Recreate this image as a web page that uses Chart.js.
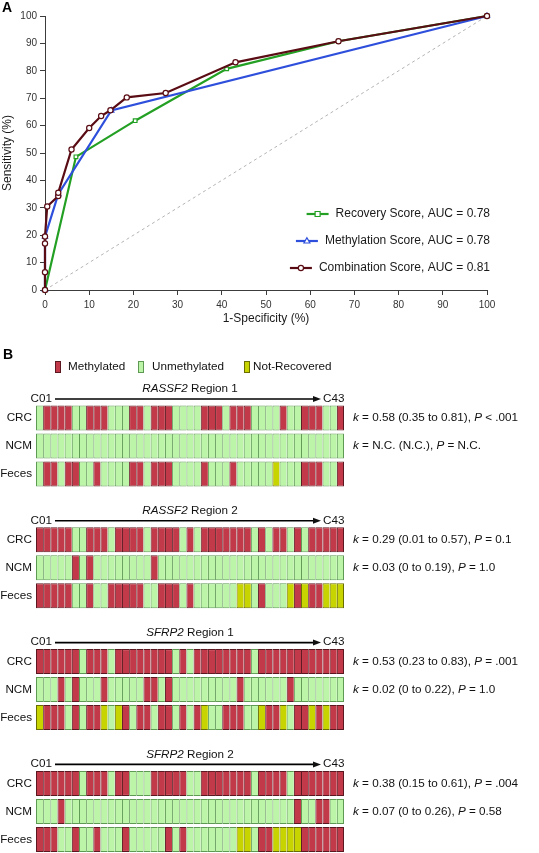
<!DOCTYPE html>
<html><head><meta charset="utf-8">
<script src="https://cdn.jsdelivr.net/npm/chart.js@4.4.1/dist/chart.umd.min.js"></script>
<style>
html,body{margin:0;padding:0;background:#fff;width:539px;height:853px;overflow:hidden;}
#wa{position:absolute;left:0;top:0;width:539px;height:330px;}
#wb{position:absolute;left:0;top:330px;width:539px;height:523px;}
canvas{display:block;}
</style></head><body>
<div id="wa"><canvas id="ca" width="539" height="330"></canvas></div>
<div id="wb"><canvas id="cb" width="539" height="523"></canvas></div>
<script>
const FF = '"Liberation Sans", Arial, Helvetica, sans-serif';

// ---------- Panel A data (ROC curves) ----------
const combFPR  = [0, 0, 0, 0, 0.5, 3, 3, 6, 10, 12.7, 14.8, 18.5, 27.3, 43.1, 66.4, 100];
const combSens = [0, 6.5, 17, 19.5, 30.5, 34.3, 35.5, 51.3, 59.1, 63.5, 65.6, 70.3, 71.9, 83.1, 90.8, 100];
const methFPR  = [0, 0, 3, 15, 100];
const methSens = [0, 19.5, 35, 65.5, 100];
const recFPR   = [0, 7, 20.4, 41.1, 66.4, 100];
const recSens  = [0, 48.6, 61.8, 80.7, 90.8, 100];
const chanceFPR  = [0, 100];
const chanceSens = [0, 100];
const axisTicks = [0, 10, 20, 30, 40, 50, 60, 70, 80, 90, 100];
const seriesNames = ['Recovery Score', 'Methylation Score', 'Combination Score'];
const seriesAUC = ['0.78', '0.78', '0.81'];

// ---------- Panel B data (methylation status per case C01..C43) ----------
// M = Methylated, U = Unmethylated, N = Not-Recovered
const genes = ['RASSF2', 'RASSF2', 'SFRP2', 'SFRP2'];
const regionNo = ['1', '2', '1', '2'];
const rowLabels = ['CRC', 'NCM', 'Feces'];
const firstCase = 'C01', lastCase = 'C43';
const rassf2R1_CRC   = 'U MMMM UU MMM UUU MM U MMM UUUU MMM U MMM UUUU M UU MMM UU M';
const rassf2R1_NCM   = 'UUUUUUUUUU UUUUUUUUUU UUUUUUUUUU UUUUUUUUUU UUU';
const rassf2R1_Feces = 'U MM U MM UU M UUUU MM U MMM UUUU M UUU M UUUUU N UUU MMM UU M';
const rassf2R2_CRC   = 'MMMMM UU MMM U MMMM U MMMM U M U MMMMMMM U M U MM U M U MMMMM';
const rassf2R2_NCM   = 'UUUUU M U M UUUUUUUU M UUUUUUUUUU UUUUUUUUUU UUUUUU';
const rassf2R2_Feces = 'MMMMM UU M UU MMMMM UU MMM U M UUUUUU NN U M UUU N M N MM NNN';
const sfrp2R1_CRC    = 'MMMMMM U MMM U MMMMMMMM U M U MMMMMMMM U MMMMMMMMMMMM';
const sfrp2R1_NCM    = 'UUU M U M UUU M UUUUU MM U M UUUUUUUUU M UUUUUU M UUUUUUU';
const sfrp2R1_Feces  = 'N MMM U M U MM N U N M U MM U MM U M U M N UU MMM UU N MM N U MM N M N MM';
const sfrp2R2_CRC    = 'MMMMMM U MMM U MM UUU MMMMM UU MMMMMMM U MMMM U MMMMMMM';
const sfrp2R2_NCM    = 'UUU M UUUUUUUUUU UUUUUUUUUU UUUUUUUUUU UU M UU MM UU';
const sfrp2R2_Feces  = 'MMM UU M UU M UUU M UUUUU M U M UUUUUUU NN U MM NNNN MMMMMM';
const kappaCRC = ['0.58 (0.35 to 0.81)', '0.29 (0.01 to 0.57)', '0.53 (0.23 to 0.83)', '0.38 (0.15 to 0.61)'];
const pCRC     = ['< .001', '= 0.1', '= .001', '= .004'];
const kappaNCM = ['N.C. (N.C.)', '0.03 (0 to 0.19)', '0.02 (0 to 0.22)', '0.07 (0 to 0.26)'];
const pNCM     = ['= N.C.', '= 1.0', '= 1.0', '= 0.58'];
const statusNames = {M: 'Methylated', U: 'Unmethylated', N: 'Not-Recovered'};

const regionRows = [
  [rassf2R1_CRC, rassf2R1_NCM, rassf2R1_Feces],
  [rassf2R2_CRC, rassf2R2_NCM, rassf2R2_Feces],
  [sfrp2R1_CRC, sfrp2R1_NCM, sfrp2R1_Feces],
  [sfrp2R2_CRC, sfrp2R2_NCM, sfrp2R2_Feces]
];

// ---------- styles ----------
const COMB = '#5a0c14', METH = '#2e4fdc', REC = '#23a023', AXIS = '#3c3c3c';
const FILL = {M: '#c23a49', U: '#bdf5a8', N: '#c8d400'};
const EDGE = {M: '#5c1820', U: '#5f9a55', N: '#6a6e00'};

Chart.defaults.font.family = FF;
Chart.defaults.color = '#222';

const xy = (xs, ys) => xs.map((v, i) => ({x: v, y: ys[i]}));

function drawMarker(ctx, style, x, y, color) {
  ctx.save();
  ctx.fillStyle = '#fff'; ctx.strokeStyle = color; ctx.lineWidth = 1.2;
  ctx.beginPath();
  if (style === 'circle') ctx.arc(x, y, 2.6, 0, Math.PI * 2);
  else if (style === 'rect') ctx.rect(x - 2.5, y - 2.5, 5, 5);
  else { ctx.moveTo(x, y - 3.2); ctx.lineTo(x + 3, y + 2); ctx.lineTo(x - 3, y + 2); ctx.closePath(); }
  ctx.fill(); ctx.stroke();
  ctx.restore();
}

const panelA = {
  id: 'panelA',
  afterDraw(chart) {
    const ctx = chart.ctx;
    ctx.save();
    ctx.fillStyle = '#000';
    ctx.font = `bold 14px ${FF}`;
    ctx.textBaseline = 'middle'; ctx.textAlign = 'left';
    ctx.fillText('A', 2, 8);
    const items = [
      {c: REC, s: 'rect', y: 214},
      {c: METH, s: 'triangle', y: 241},
      {c: COMB, s: 'circle', y: 268}
    ];
    ctx.font = `12px ${FF}`;
    items.forEach((it, i) => {
      const label = `${seriesNames[i]}, AUC = ${seriesAUC[i]}`;
      const w = ctx.measureText(label).width;
      const tl = 490 - w;
      ctx.fillStyle = '#1a1a1a';
      ctx.textAlign = 'left';
      ctx.fillText(label, tl, it.y);
      ctx.strokeStyle = it.c; ctx.lineWidth = 2.2;
      ctx.beginPath(); ctx.moveTo(tl - 29, it.y); ctx.lineTo(tl - 7, it.y); ctx.stroke();
      drawMarker(ctx, it.s, tl - 18, it.y, it.c);
    });
    ctx.restore();
  }
};

const tickBuild = s => { s.ticks = axisTicks.map(v => ({value: v})); };

new Chart(document.getElementById('ca'), {
  type: 'scatter',
  data: {
    datasets: [
      {label: seriesNames[2], data: xy(combFPR, combSens), showLine: true, borderColor: COMB, borderWidth: 2.2,
       pointStyle: 'circle', pointRadius: 2.6, pointBackgroundColor: '#fff', pointBorderColor: COMB, pointBorderWidth: 1.2, order: 0, clip: false},
      {label: seriesNames[1], data: xy(methFPR, methSens), showLine: true, borderColor: METH, borderWidth: 2.2,
       pointStyle: 'triangle', pointRadius: 3, pointBackgroundColor: '#fff', pointBorderColor: METH, pointBorderWidth: 1.2, order: 1, clip: false},
      {label: seriesNames[0], data: xy(recFPR, recSens), showLine: true, borderColor: REC, borderWidth: 2.2,
       pointStyle: 'rect', pointRadius: 2.6, pointBackgroundColor: '#fff', pointBorderColor: REC, pointBorderWidth: 1.2, order: 2, clip: false},
      {label: 'Reference', data: xy(chanceFPR, chanceSens), showLine: true, borderColor: '#b4b4b4', borderWidth: 1,
       borderDash: [3, 3], pointRadius: 0, order: 3}
    ]
  },
  options: {
    responsive: false, animation: false, events: [],
    layout: {padding: {top: 16, right: 52, left: 0, bottom: 0}},
    plugins: {legend: {display: false}, tooltip: {enabled: false}},
    scales: {
      x: {
        type: 'linear', min: 0, max: 100,
        afterFit(s) { s.height = 40; },
        afterBuildTicks: tickBuild,
        ticks: {font: {size: 10}, color: '#333', padding: 4, maxRotation: 0, autoSkip: false},
        grid: {display: true, drawOnChartArea: false, drawTicks: true, tickLength: 5, color: AXIS},
        border: {display: true, color: AXIS, width: 1},
        title: {display: true, text: '1-Specificity (%)', font: {size: 12}, color: '#1a1a1a', padding: {top: 4, bottom: 4}}
      },
      y: {
        type: 'linear', min: 0, max: 100,
        afterFit(s) { s.width = 45; },
        afterBuildTicks: tickBuild,
        ticks: {font: {size: 10}, color: '#333', padding: 3, autoSkip: false},
        grid: {display: true, drawOnChartArea: false, drawTicks: true, tickLength: 5, color: AXIS},
        border: {display: true, color: AXIS, width: 1},
        title: {display: true, text: 'Sensitivity (%)', font: {size: 12}, color: '#1a1a1a', padding: {top: 0, bottom: 0}}
      }
    }
  },
  plugins: [panelA]
});

// ---------- Panel B ----------
const ROW_PX = 28;            // pixels per row unit
const REGION_STEP = 4.35;     // row units between region blocks
const FIRST_ROW_CANVAS_Y = 88;
const CANVAS_B_H = 523;
const Y_MIN = -FIRST_ROW_CANVAS_Y / ROW_PX;
const Y_MAX = Y_MIN + CANVAS_B_H / ROW_PX;

const cells = [];
let nCases = 0;
regionRows.forEach((rows, r) => rows.forEach((str, k) => {
  const s = str.replace(/\s/g, '');
  nCases = Math.max(nCases, s.length);
  for (let i = 0; i < s.length; i++) cells.push({x: [i, i + 1], y: r * REGION_STEP + k, s: s[i], last: i === s.length - 1});
}));

function segText(ctx, x, y, segs, size) {
  segs.forEach(([t, it]) => {
    ctx.font = `${it ? 'italic ' : ''}${size}px ${FF}`;
    ctx.fillText(t, x, y);
    x += ctx.measureText(t).width;
  });
}

const FS = 11.7;
const panelB = {
  id: 'panelB',
  afterDraw(chart) {
    const ctx = chart.ctx, xs = chart.scales.x, ys = chart.scales.y;
    const gx0 = xs.getPixelForValue(0), gx1 = xs.getPixelForValue(nCases);
    ctx.save();
    ctx.fillStyle = '#000';
    ctx.textBaseline = 'middle';
    ctx.textAlign = 'left';
    ctx.font = `bold 14px ${FF}`;
    ctx.fillText('B', 3, 25);
    // legend
    const leg = [{s: 'M', x: 55, tx: 68}, {s: 'U', x: 138, tx: 152}, {s: 'N', x: 244, tx: 253}];
    const ly = 37;
    leg.forEach(l => {
      ctx.fillStyle = FILL[l.s]; ctx.strokeStyle = EDGE[l.s]; ctx.lineWidth = 1;
      ctx.fillRect(l.x, ly - 6, 6, 12); ctx.strokeRect(l.x + 0.5, ly - 5.5, 5, 11);
      ctx.fillStyle = '#111'; ctx.font = `${FS}px ${FF}`;
      ctx.fillText(statusNames[l.s], l.tx, ly);
    });
    for (let r = 0; r < regionRows.length; r++) {
      const rowY = k => ys.getPixelForValue(r * REGION_STEP + k);
      const top = rowY(0) - 12.5;
      const ay = top - 6.5;
      ctx.fillStyle = '#111';
      // title
      ctx.font = `italic ${FS}px ${FF}`;
      const w1 = ctx.measureText(genes[r]).width;
      ctx.font = `${FS}px ${FF}`;
      const t2 = ' Region ' + regionNo[r];
      const w2 = ctx.measureText(t2).width;
      const cx = 190;
      ctx.textAlign = 'left';
      segText(ctx, cx - (w1 + w2) / 2, top - 16.5, [[genes[r], true], [t2, false]], FS);
      // case labels + arrow
      ctx.font = `${FS}px ${FF}`;
      ctx.textAlign = 'right';
      ctx.fillText(firstCase, gx0 + 16, ay - 0.5);
      ctx.textAlign = 'left';
      ctx.fillText(lastCase, gx1 - 21, ay - 0.5);
      ctx.strokeStyle = '#000'; ctx.lineWidth = 1.6;
      ctx.beginPath(); ctx.moveTo(gx0 + 19, ay); ctx.lineTo(gx1 - 30, ay); ctx.stroke();
      ctx.beginPath(); ctx.moveTo(gx1 - 23, ay); ctx.lineTo(gx1 - 31, ay - 3); ctx.lineTo(gx1 - 31, ay + 3); ctx.closePath(); ctx.fill();
      // row labels
      ctx.textAlign = 'right';
      rowLabels.forEach((lab, k) => ctx.fillText(lab, gx0 - 4, rowY(k)));
      // kappa texts
      ctx.textAlign = 'left';
      segText(ctx, gx1 + 9, rowY(0), [['k', true], [` = ${kappaCRC[r]}, `, false], ['P', true], [' ' + pCRC[r], false]], FS);
      segText(ctx, gx1 + 9, rowY(1), [['k', true], [` = ${kappaNCM[r]}, `, false], ['P', true], [' ' + pNCM[r], false]], FS);
    }
    ctx.restore();
  }
};

new Chart(document.getElementById('cb'), {
  type: 'bar',
  data: {
    datasets: [{
      label: 'Status',
      data: cells,
      backgroundColor: c => FILL[c.raw.s],
      borderColor: c => EDGE[c.raw.s],
      borderWidth: c => ({top: 1, bottom: 1, left: 1, right: c.raw.last ? 1 : 0}),
      borderSkipped: false,
      inflateAmount: 0,
      barThickness: 25
    }]
  },
  options: {
    indexAxis: 'y',
    responsive: false, animation: false, events: [],
    layout: {padding: {left: 36, right: 195, top: 0, bottom: 0}, autoPadding: false},
    plugins: {legend: {display: false}, tooltip: {enabled: false}},
    scales: {
      x: {type: 'linear', min: 0, max: 43, bounds: 'data', offset: false, display: false,
          grid: {offset: false},
          afterBuildTicks(s) { s.min = 0; s.max = 43; }},
      y: {type: 'linear', min: Y_MIN, max: Y_MAX, bounds: 'data', offset: false, reverse: true, display: false,
          grid: {offset: false},
          afterBuildTicks(s) { s.min = Y_MIN; s.max = Y_MAX; }}
    }
  },
  plugins: [panelB]
});
</script>
</body></html>
